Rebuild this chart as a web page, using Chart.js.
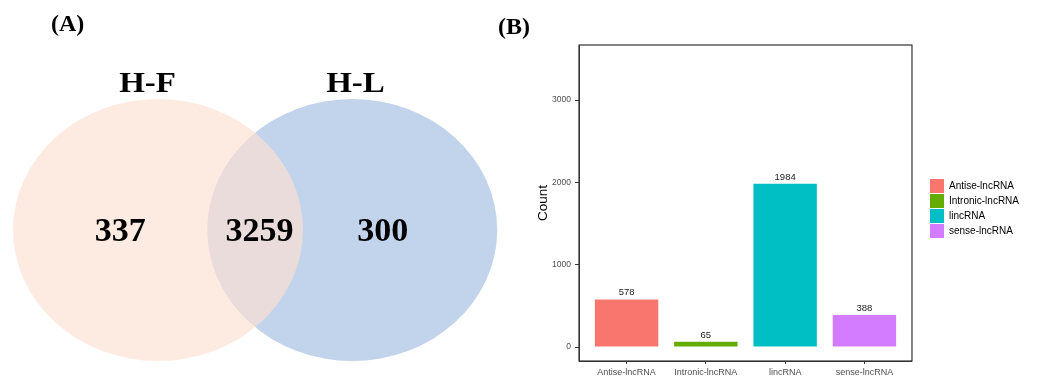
<!DOCTYPE html>
<html><head><meta charset="utf-8">
<script src="https://cdn.jsdelivr.net/npm/chart.js@4.4.1/dist/chart.umd.min.js"></script>
<style>
html,body{margin:0;padding:0;background:#fff;width:1037px;height:378px;overflow:hidden;}
#wrapA{position:absolute;left:0;top:0;width:510px;height:378px;}
#wrapB{position:absolute;left:520px;top:0;width:517px;height:378px;}
.lab{position:absolute;font-family:"Liberation Serif","Times New Roman",serif;font-weight:bold;font-size:24px;line-height:24px;color:#000;}
</style></head><body>
<div id="wrapA"><canvas id="venn"></canvas></div>
<div id="wrapB"><canvas id="bar"></canvas></div>
<div class="lab" style="left:51px;top:11px">(A)</div>
<div class="lab" style="left:498px;top:14px">(B)</div>
<script>
// ---- Panel A: Venn data ----
const setNames = ['H-F', 'H-L'];
const regionCounts = [337, 3259, 300];      // only H-F, both, only H-L
const setCenterX = [0, 1.34];
const setCenterY = [0, 0];
const setRadius = [1, 1];
const setLabelX = [-0.072, 1.362];
const regionLabelX = [-0.26, 0.70, 1.55];
const setColors = ['rgba(252,224,209,0.67)', 'rgb(194,211,236)'];

// ---- Panel B: bar data ----
const categories = ['Antise-lncRNA', 'Intronic-lncRNA', 'lincRNA', 'sense-lncRNA'];
const counts = [578, 65, 1984, 388];
const barColors = ['#F8766D', '#64AC00', '#00BFC4', '#D47CFF'];
const yTicks = [0, 1000, 2000, 3000];

Chart.defaults.font.family = '"Liberation Sans", Arial, sans-serif';

const vennPlugin = {
  id: 'venn',
  beforeDatasetsDraw(chart) {
    const {ctx, scales: {x, y}} = chart;
    const order = [1, 0];
    order.forEach(i => {
      const cx = x.getPixelForValue(setCenterX[i]);
      const cy = y.getPixelForValue(setCenterY[i]);
      const rx = x.getPixelForValue(setCenterX[i] + setRadius[i]) - cx;
      const ry = cy - y.getPixelForValue(setCenterY[i] + setRadius[i]);
      ctx.save();
      ctx.beginPath();
      ctx.ellipse(cx, cy, rx, ry, 0, 0, Math.PI * 2);
      ctx.fillStyle = setColors[i];
      ctx.fill();
      ctx.restore();
    });
  },
  afterDatasetsDraw(chart) {
    const {ctx, scales: {x, y}} = chart;
    ctx.save();
    ctx.fillStyle = '#000';
    ctx.textAlign = 'center';
    ctx.font = 'bold 30px "Liberation Serif", "Times New Roman", serif';
    ctx.textBaseline = 'alphabetic';
    setNames.forEach((n, i) => {
      const cx = x.getPixelForValue(setLabelX[i]);
      const top = y.getPixelForValue(setCenterY[i] + setRadius[i]);
      ctx.save();
      ctx.translate(cx, top - 7);
      ctx.scale(1.1, 1);
      ctx.fillText(n, 0, 0);
      ctx.restore();
    });
    ctx.font = 'bold 34px "Liberation Serif", "Times New Roman", serif';
    ctx.textBaseline = 'middle';
    regionCounts.forEach((c, i) => {
      ctx.fillText(String(c), x.getPixelForValue(regionLabelX[i]), y.getPixelForValue(0) + 2);
    });
    ctx.restore();
  }
};

new Chart(document.getElementById('venn'), {
  type: 'scatter',
  data: {
    datasets: setNames.map((n, i) => ({
      label: n,
      data: [{x: setCenterX[i], y: setCenterY[i]}],
      pointRadius: 0
    }))
  },
  options: {
    responsive: true, maintainAspectRatio: false, animation: false,
    layout: {padding: 0},
    scales: {
      x: {type: 'linear', min: -1.09, max: 2.428, display: false},
      y: {type: 'linear', min: -1.13, max: 1.756, display: false}
    },
    plugins: {legend: {display: false}, tooltip: {enabled: false}}
  },
  plugins: [vennPlugin]
});

const framePlugin = {
  id: 'frame',
  afterDraw(chart) {
    const {ctx, chartArea: a} = chart;
    ctx.save();
    ctx.strokeStyle = '#333';
    ctx.lineWidth = 1.2;
    ctx.strokeRect(a.left, a.top, a.right - a.left, a.bottom - a.top);
    ctx.restore();
  }
};
const valuePlugin = {
  id: 'values',
  afterDatasetsDraw(chart) {
    const {ctx} = chart;
    const meta = chart.getDatasetMeta(0);
    ctx.save();
    ctx.fillStyle = '#1a1a1a';
    ctx.font = '9.5px "Liberation Sans", Arial, sans-serif';
    ctx.textAlign = 'center';
    ctx.textBaseline = 'bottom';
    meta.data.forEach((el, i) => {
      ctx.fillText(String(counts[i]), el.x, el.y - 2);
    });
    ctx.restore();
  }
};

new Chart(document.getElementById('bar'), {
  type: 'bar',
  data: {
    datasets: [{
      label: 'Count',
      data: categories.map((c, i) => ({x: i + 1, y: counts[i]})),
      backgroundColor: barColors,
      borderWidth: 0,
      barPercentage: 0.8,
      categoryPercentage: 1
    }]
  },
  options: {
    responsive: true, maintainAspectRatio: false, animation: false,
    layout: {padding: {left: 0, right: 8, top: 39, bottom: 0}},
    scales: {
      x: {
        type: 'linear', min: 0.4, max: 4.6, offset: false,
        afterBuildTicks: s => { s.ticks = categories.map((c, i) => ({value: i + 1})); },
        ticks: {callback: v => categories[v - 1], font: {size: 9}, color: '#4d4d4d', padding: 3, maxRotation: 0, autoSkip: false},
        grid: {drawOnChartArea: false, offset: false, tickLength: 3, tickColor: '#333'},
        border: {color: '#333', width: 1},
        afterFit: s => { s.height = 17; }
      },
      x2: {
        type: 'linear', position: 'top', display: true,
        grid: {display: false}, ticks: {display: false}, border: {display: false},
        afterFit: s => { s.height = 6; }
      },
      y: {
        type: 'linear', min: -170, max: 3670,
        afterBuildTicks: s => { s.ticks = yTicks.map(v => ({value: v})); },
        ticks: {callback: v => String(v), font: {size: 8.5}, color: '#4d4d4d', padding: 4},
        grid: {drawOnChartArea: false, tickLength: 4, tickColor: '#333'},
        border: {color: '#333', width: 1},
        title: {display: true, text: 'Count', font: {size: 13.5}, color: '#000', padding: {top: 15, bottom: 0}},
        afterFit: s => { s.width = 59; }
      },
      y2: {
        position: 'right', display: true,
        grid: {display: false}, ticks: {display: false}, border: {display: false},
        afterFit: s => { s.width = 17; }
      }
    },
    plugins: {
      legend: {
        position: 'right',
        maxWidth: 200,
        labels: {
          boxWidth: 14, boxHeight: 14, padding: 1, font: {size: 10}, color: '#1a1a1a',
          generateLabels: () => categories.map((c, i) => ({
            text: c, fillStyle: barColors[i], strokeStyle: barColors[i], lineWidth: 0, hidden: false, index: i
          }))
        }
      },
      tooltip: {enabled: false}
    }
  },
  plugins: [framePlugin, valuePlugin]
});
</script>
</body></html>
